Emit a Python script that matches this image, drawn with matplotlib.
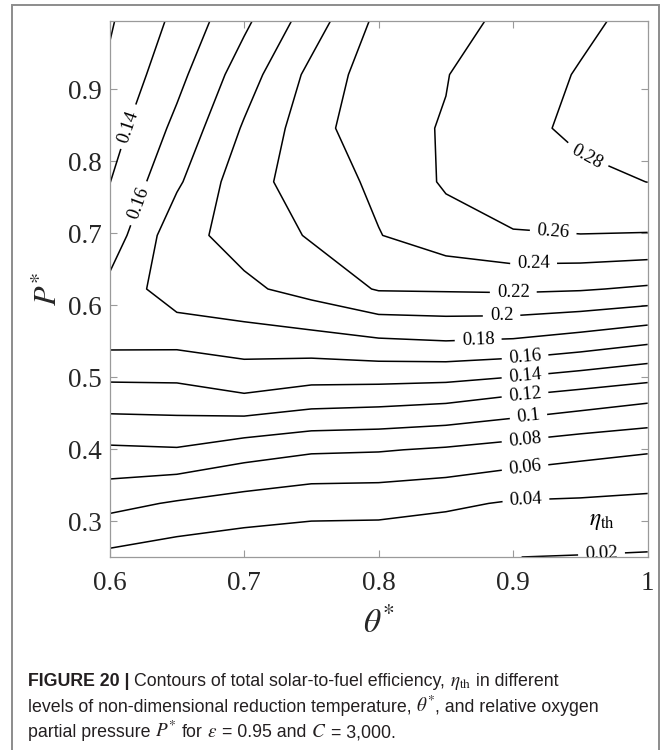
import matplotlib
matplotlib.use('Agg')
import matplotlib.pyplot as plt
from matplotlib import font_manager
from matplotlib.patches import Rectangle

# grid of the efficiency map
theta = [0.6, 0.65, 0.7, 0.75, 0.8, 0.85, 0.9, 0.95, 1.0]
p_star = [0.25, 0.3245, 0.399, 0.4735, 0.548, 0.6225, 0.697, 0.7715, 0.846, 0.9205, 0.995]

# eta_th, one row per P* value (bottom to top), one column per theta*
eta = [
    [0.0350, 0.0290, 0.0258, 0.0260, 0.0255, 0.0210, 0.0201, 0.0193, 0.0184],
    [0.0658, 0.0580, 0.0518, 0.0469, 0.0465, 0.0435, 0.0380, 0.0370, 0.0350],
    [0.0970, 0.0985, 0.0890, 0.0827, 0.0814, 0.0776, 0.0720, 0.0662, 0.0620],
    [0.1312, 0.1320, 0.1383, 0.1316, 0.1296, 0.1266, 0.1195, 0.1126, 0.1057],
    [0.1646, 0.1643, 0.1698, 0.1716, 0.1762, 0.1786, 0.1766, 0.1700, 0.1619],
    [0.1652, 0.1921, 0.1960, 0.2073, 0.2215, 0.2222, 0.2232, 0.2216, 0.2172],
    [0.1485, 0.1930, 0.2077, 0.2219, 0.2393, 0.2510, 0.2590, 0.2596, 0.2588],
    [0.1395, 0.1768, 0.2121, 0.2301, 0.2438, 0.2626, 0.2675, 0.2744, 0.2802],
    [0.1310, 0.1651, 0.2022, 0.2313, 0.2555, 0.2609, 0.2730, 0.2851, 0.2870],
    [0.1230, 0.1540, 0.1903, 0.2253, 0.2520, 0.2594, 0.2705, 0.2815, 0.2890],
    [0.1180, 0.1447, 0.1759, 0.2101, 0.2449, 0.2534, 0.2648, 0.2757, 0.2865],
]

levels = [0.02, 0.04, 0.06, 0.08, 0.10, 0.12, 0.14, 0.16, 0.18, 0.20, 0.22, 0.24, 0.26, 0.28]

# where the inline labels sit (theta*, P*)
label_pos = [
    (0.6132, 0.8485), (0.6211, 0.742), (0.9537, 0.802), (0.9296, 0.698),
    (0.9152, 0.656), (0.9001, 0.6167), (0.8914, 0.582), (0.874, 0.551),
    (0.9088, 0.5286), (0.9088, 0.5017), (0.9088, 0.4753), (0.9113, 0.4465),
    (0.9088, 0.4137), (0.9088, 0.3748), (0.9095, 0.3279), (0.9657, 0.2528),
]

W, H = 664, 750
plt.rcParams['font.family'] = ['Liberation Serif', 'DejaVu Serif']

fig = plt.figure(figsize=(W / 100, H / 100), dpi=100)
ax = fig.add_axes([109.6 / W, 1 - 557 / H, 538.1 / W, 536 / H])

cs = ax.contour(theta, p_star, eta, levels=levels, colors='k', linewidths=1.1)
ax.clabel(cs, fmt=lambda v: f'{v:g}', manual=label_pos, fontsize=13.5,
          inline=True, inline_spacing=7)

ax.text(0.9663, 0.299, r'$\eta_{\rm th}$', math_fontfamily='stix', fontsize=17,
        ha='center', va='center')

ax.set_xlim(0.6, 1.0)
ax.set_ylim(0.25, 0.995)
ax.set_xticks([0.6, 0.7, 0.8, 0.9, 1.0])
ax.set_xticklabels(['0.6', '0.7', '0.8', '0.9', '1'])
ax.set_yticks([0.3, 0.4, 0.5, 0.6, 0.7, 0.8, 0.9])
ax.set_yticklabels(['0.3', '0.4', '0.5', '0.6', '0.7', '0.8', '0.9'])
ax.tick_params(direction='in', length=5, width=0.8, color='#9a9a9a',
               labelsize=19.5, labelcolor='#262626', top=True, right=True)
ax.tick_params(axis='x', pad=10)
ax.tick_params(axis='y', pad=6)
for s in ax.spines.values():
    s.set_color('#9a9a9a')
    s.set_linewidth(0.9)

ax.set_xlabel(r'$\theta^{*}$', math_fontfamily='stix', fontsize=24, color='#262626')
ax.xaxis.set_label_coords(0.5, -0.093)
ax.set_ylabel(r'$P^{*}$', math_fontfamily='stix', fontsize=23, color='#262626')
ax.yaxis.set_label_coords(-0.085, 0.5)

# outer frame around figure + caption
fig.patches.append(Rectangle((12 / W, -0.02), (659 - 12) / W, 1.02 - 4.5 / H,
                             transform=fig.transFigure, fill=False,
                             ec='#8c8c8c', lw=1.4))

# caption, drawn piece by piece so bold / math runs line up
names = {f.name for f in font_manager.fontManager.ttflist}
if 'Liberation Sans Narrow' in names:
    cap_family, cap_size = 'Liberation Sans Narrow', 12.3
else:
    cap_family, cap_size = 'Liberation Sans', 12.8

renderer = fig.canvas.get_renderer()
cap_kw = dict(family=cap_family, size=cap_size, color='#231f20')
probe_a = fig.text(0, 0, 'x x', **cap_kw)
probe_b = fig.text(0, 0, 'xx', **cap_kw)
space_w = probe_a.get_window_extent(renderer).width - probe_b.get_window_extent(renderer).width
probe_a.remove()
probe_b.remove()


def caption_line(pieces, y_px):
    x = 27.6
    for s, style in pieces:
        if s.startswith(' '):
            x += space_w
            s = s[1:]
        if style == 'math':
            t = fig.text(x / W, 1 - y_px / H, s, math_fontfamily='stix',
                         fontsize=cap_size + 1, color='#231f20', va='baseline')
        elif style == 'bold':
            t = fig.text(x / W, 1 - y_px / H, s, weight='bold', va='baseline', **cap_kw)
        else:
            t = fig.text(x / W, 1 - y_px / H, s, va='baseline', **cap_kw)
        x += t.get_window_extent(renderer).width


caption_line([('FIGURE 20 |', 'bold'),
              (' Contours of total solar-to-fuel efficiency,', 'text'),
              (r' $\eta_{\rm th}$', 'math'),
              (' in different', 'text')], 686)
caption_line([('levels of non-dimensional reduction temperature,', 'text'),
              (r' $\theta^{*}$', 'math'),
              (', and relative oxygen', 'text')], 711.5)
caption_line([('partial pressure', 'text'),
              (r' $P^{*}$', 'math'),
              (' for', 'text'),
              (r' $\varepsilon$', 'math'),
              (' = 0.95 and', 'text'),
              (r' $C$', 'math'),
              (' = 3,000.', 'text')], 737)

fig.savefig('out.png', dpi=100)
